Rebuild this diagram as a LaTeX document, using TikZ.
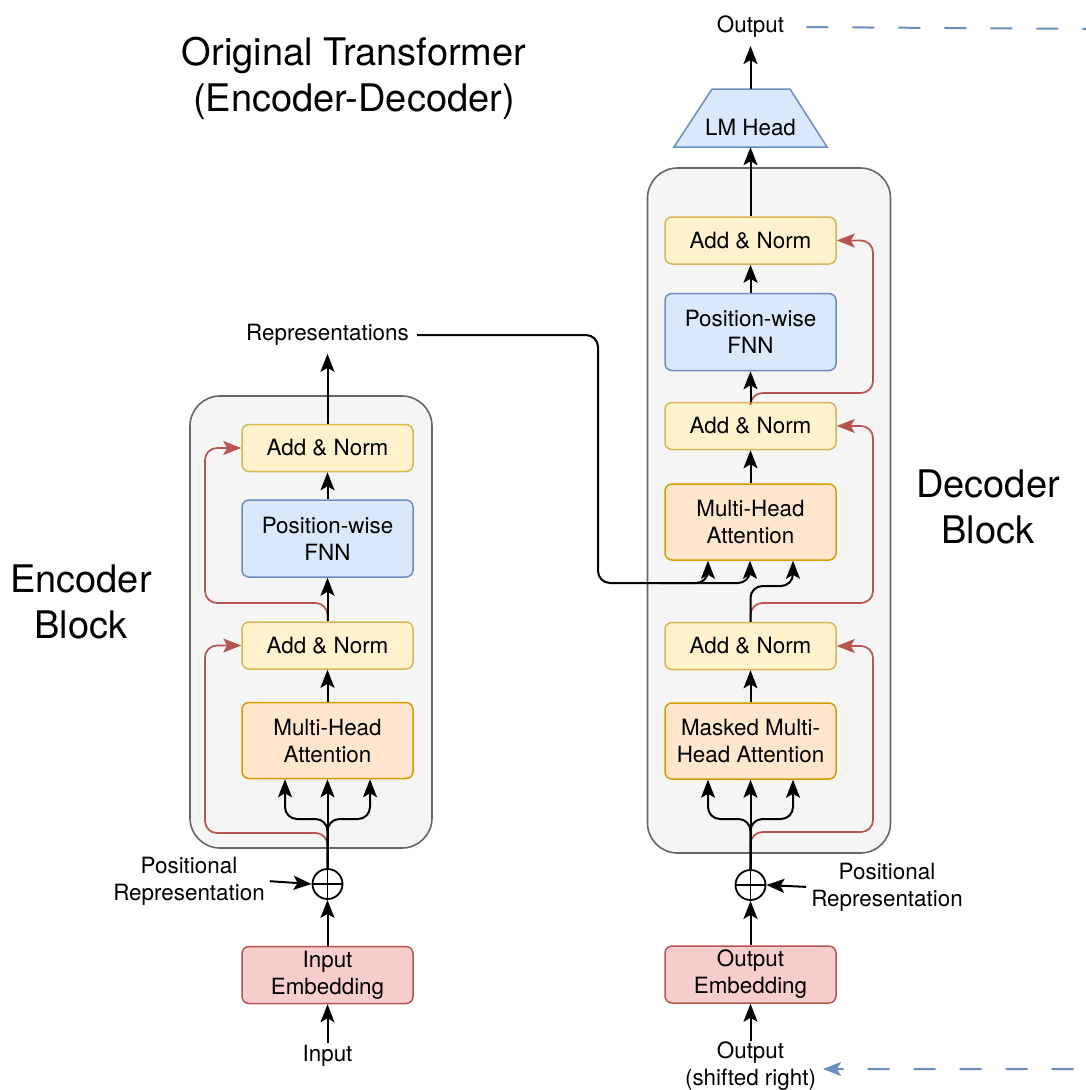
\documentclass[tikz,border=0pt]{standalone}
\usepackage{fontspec}
\setmainfont{TeX Gyre Heros}
\usetikzlibrary{arrows.meta}

\definecolor{ynfill}{HTML}{FFF2CC}\definecolor{ynline}{HTML}{D6B656}
\definecolor{bfill}{HTML}{DAE8FC}\definecolor{bline}{HTML}{6C8EBF}
\definecolor{ofill}{HTML}{FFE6CC}\definecolor{oline}{HTML}{D79B00}
\definecolor{rfill}{HTML}{F8CECC}\definecolor{rline}{HTML}{B85450}
\definecolor{cfill}{HTML}{F5F5F5}\definecolor{cline}{HTML}{666666}

\begin{document}
\begin{tikzpicture}[x=1pt,y=-1pt,
  every node/.style={font=\fontsize{22.4}{27}\selectfont, text=black},
  bigtext/.style={font=\fontsize{38}{46}\selectfont, align=center},
  blk/.style={draw, rounded corners=7pt, minimum width=171pt, inner sep=0pt, align=center, line width=1.5pt},
  addnorm/.style={blk, fill=ynfill, draw=ynline, minimum height=47pt},
  ffn/.style={blk, fill=bfill, draw=bline, minimum height=77pt},
  attn/.style={blk, fill=ofill, draw=oline, minimum height=76pt},
  embed/.style={blk, fill=rfill, draw=rline, minimum height=57pt},
  container/.style={draw=cline, fill=cfill, rounded corners=30pt, line width=1.6pt, inner sep=0pt},
  conn/.style={draw=black, line width=2pt, sharp corners,
    -{Stealth[length=18pt,width=14pt,inset=4pt]}},
  resid/.style={draw=rline, line width=1.7pt, sharp corners,
    -{Stealth[length=18pt,width=14pt,inset=4pt]}},
  feedback/.style={draw=bline, line width=2pt, dash pattern=on 22pt off 24pt,
    -{Stealth[length=18pt,width=14pt,inset=4pt]}},
  roundturn/.style={rounded corners=12pt},
  plus/.style={draw, circle, line width=1.8pt, minimum size=30pt, inner sep=0pt},
  lbl/.style={align=center, inner sep=2pt}
]
\path[use as bounding box] (0,0) rectangle (1086,1090);
\clip (0,0) rectangle (1086,1090);

% ---------- titles ----------
\node[bigtext] (title) at (354,78) {Original Transformer\\(Encoder-Decoder)};
\node[bigtext] (encTitle) at (81,602) {Encoder\\Block};
\node[bigtext] (decTitle) at (988,507) {Decoder\\Block};

% ---------- encoder ----------
\node[container, minimum width=242pt, minimum height=452pt] (eBlock) at (311,622) {};
\node[addnorm] (eAN2) at (327.5,448) {Add \& Norm};
\node[ffn]     (eFFN) at (327.5,538.5) {Position-wise\\FNN};
\node[addnorm] (eAN1) at (327.5,645.5) {Add \& Norm};
\node[attn]    (eMHA) at (327.5,740.5) {Multi-Head\\Attention};
\node[plus]    (ePlus) at (327.5,884) {};
\node[embed]   (eEmb) at (327.5,975) {Input\\Embedding};
\node[lbl]     (eIn) at (327.5,1056) {Input};
\node[lbl]     (eRep) at (327.5,335) {Representations};
\node[lbl]     (ePos) at (189,881) {Positional\\Representation};

% ---------- decoder ----------
\node[container, minimum width=243pt, minimum height=685pt] (dBlock) at (769,510.5) {};
\node[addnorm] (dAN3) at (750.5,240.5) {Add \& Norm};
\node[ffn]     (dFFN) at (750.5,332) {Position-wise\\FNN};
\node[addnorm] (dAN2) at (750.5,426) {Add \& Norm};
\node[attn]    (dMHA) at (750.5,522) {Multi-Head\\Attention};
\node[addnorm] (dAN1) at (750.5,646) {Add \& Norm};
\node[attn]    (dMMHA) at (750.5,741) {Masked Multi-\\Head Attention};
\node[plus]    (dPlus) at (750.5,885) {};
\node[embed]   (dEmb) at (750.5,974.5) {Output\\Embedding};
\node[lbl, inner sep=1pt] (dIn) at (750.5,1066) {Output\\(shifted right)};
\node[lbl]     (dPos) at (887,887) {Positional\\Representation};

% LM head trapezoid
\draw[fill=bfill, draw=bline, line width=1.5pt] (712,89) -- (790,89) -- (827,147) -- (674,147) -- cycle;
\node[minimum width=153pt, minimum height=58pt, inner sep=0pt] (dHead) at (750.5,118) {};
\node at (750.5,128) {LM Head};
\node[lbl] (dOut) at (750.5,27) {Output};

% plus signs inside the adders
\foreach \p in {ePlus,dPlus}{
  \draw[line width=1.5pt] (\p.north) -- (\p.south) (\p.west) -- (\p.east);
}

% ---------- routing coordinates ----------
\coordinate (eSkip1) at (205,833);
\coordinate (eSkip2) at (205,603);
\coordinate (eK) at (285,819);
\coordinate (eQ) at (370,819);
\coordinate (dSkip1) at (873,832);
\coordinate (dSkip2) at (873,603);
\coordinate (dSkip3) at (873,393);
\coordinate (dK) at (708,819);
\coordinate (dQ) at (793,819);
\coordinate (xTurn) at (598,583);
\coordinate (xV) at (750,583);
\coordinate (xSplit) at (660,583);
\coordinate (xK) at (708,583);
\coordinate (qTurn) at (793,586);
\coordinate (fbTop) at (1110,29);
\coordinate (fbBottom) at (1110,1069);
\coordinate (fbEnd) at (823,1069);

% ---------- residual connections ----------
\draw[resid] (ePlus.north) [roundturn] |- (eSkip1) -- (eAN1.west -| eSkip1) [sharp corners] -- (eAN1.west);
\draw[resid] (eAN1.north) [roundturn] |- (eSkip2) -- (eAN2.west -| eSkip2) [sharp corners] -- (eAN2.west);
\draw[resid] (dPlus.north) [roundturn] |- (dSkip1) -- (dAN1.east -| dSkip1) [sharp corners] -- (dAN1.east);
\draw[resid] (dAN1.north) [roundturn] |- (dSkip2) -- (dAN2.east -| dSkip2) [sharp corners] -- (dAN2.east);
\draw[resid] (dAN2.north) [roundturn] |- (dSkip3) -- (dAN3.east -| dSkip3) [sharp corners] -- (dAN3.east);

% ---------- encoder data flow ----------
\draw[conn] (eIn.north) -- (eEmb.south);
\draw[conn] (eEmb.north) -- (ePlus.south);
\draw[conn, shorten <=3pt] (ePos.east) -- (ePlus.west);
\draw[conn] (ePlus.north) -- (eMHA.south);
\draw[conn] (ePlus.north) [roundturn] |- (eK) [sharp corners] -- (eK |- eMHA.south);
\draw[conn] (ePlus.north) [roundturn] |- (eQ) [sharp corners] -- (eQ |- eMHA.south);
\draw[conn] (eMHA.north) -- (eAN1.south);
\draw[conn] (eAN1.north) -- (eFFN.south);
\draw[conn] (eFFN.north) -- (eAN2.south);
\draw[conn, shorten >=6pt] (eAN2.north) -- (eRep.south);

% ---------- decoder data flow ----------
\draw[conn] (dIn.north) -- (dEmb.south);
\draw[conn] (dEmb.north) -- (dPlus.south);
\draw[conn, shorten <=3pt] (dPos.west) -- (dPlus.east);
\draw[conn] (dPlus.north) -- (dMMHA.south);
\draw[conn] (dPlus.north) [roundturn] |- (dK) [sharp corners] -- (dK |- dMMHA.south);
\draw[conn] (dPlus.north) [roundturn] |- (dQ) [sharp corners] -- (dQ |- dMMHA.south);
\draw[conn] (dMMHA.north) -- (dAN1.south);
\draw[conn] (dAN1.north) [roundturn] |- (qTurn) [sharp corners] -- (qTurn |- dMHA.south);
\draw[conn, shorten <=6pt] (eRep.east) [roundturn] -| (xTurn) -- (xV) [sharp corners] -- (xV |- dMHA.south);
\draw[conn] (xSplit) [roundturn] -- (xK) [sharp corners] -- (xK |- dMHA.south);
\draw[conn] (dMHA.north) -- (dAN2.south);
\draw[conn] (dAN2.north) -- (dFFN.south);
\draw[conn] (dFFN.north) -- (dAN3.south);
\draw[conn] (dAN3.north) -- (dHead.south);
\draw[conn, shorten >=6pt] (dHead.north) -- (dOut.south);

% ---------- autoregressive feedback ----------
\draw[feedback, shorten <=20pt] (dOut.east) -- (fbTop) -- (fbBottom) -- (fbEnd);
\end{tikzpicture}
\end{document}
